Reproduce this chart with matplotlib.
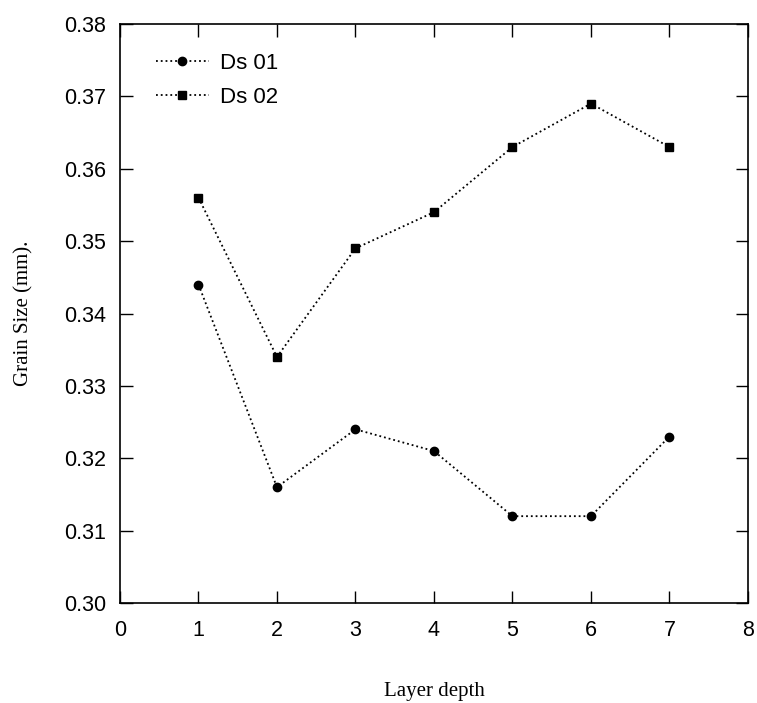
import matplotlib
matplotlib.use("Agg")
import matplotlib.pyplot as plt

# Layer depth vs grain size
layers = [1, 2, 3, 4, 5, 6, 7]
ds01 = [0.344, 0.316, 0.324, 0.321, 0.312, 0.312, 0.323]
ds02 = [0.356, 0.334, 0.349, 0.354, 0.363, 0.369, 0.363]
x_ticks = [0, 1, 2, 3, 4, 5, 6, 7, 8]
y_ticks = [0.30, 0.31, 0.32, 0.33, 0.34, 0.35, 0.36, 0.37, 0.38]

fig = plt.figure(figsize=(7.57, 7.03), dpi=100)
ax = fig.add_axes([0.1585, 0.1422, 0.8295, 0.8237])

ax.plot(layers, ds01, linestyle=':', color='black', linewidth=1.3,
        marker='o', markersize=6, label='Ds 01')
ax.plot(layers, ds02, linestyle=':', color='black', linewidth=1.3,
        marker='s', markersize=6, label='Ds 02')

ax.set_xlim(0, 8); ax.set_ylim(0.30, 0.38)
ax.set_xticks(x_ticks)
ax.set_yticks(y_ticks)
ax.set_yticklabels([f"{v:.2f}" for v in y_ticks])
ax.tick_params(direction='in', top=True, right=True, length=9, width=1,
               labelsize=15.5)
ax.tick_params(axis='x', pad=12)
ax.tick_params(axis='y', pad=10)
for lab in ax.get_xticklabels() + ax.get_yticklabels():
    lab.set_fontfamily('Liberation Sans')
for s in ax.spines.values():
    s.set_linewidth(1.2)

ax.set_xlabel('Layer depth', fontfamily='Liberation Serif', fontsize=15, labelpad=30)
ax.set_ylabel('Grain Size (mm).', fontfamily='Liberation Serif', fontsize=15, labelpad=22)

leg = ax.legend(loc='upper left', frameon=False, prop={'family': 'Liberation Sans', 'size': 16},
                handlelength=2.4, bbox_to_anchor=(0.025, 0.985), labelspacing=0.6,
                handletextpad=0.5)

fig.savefig('out.png', dpi=100)
